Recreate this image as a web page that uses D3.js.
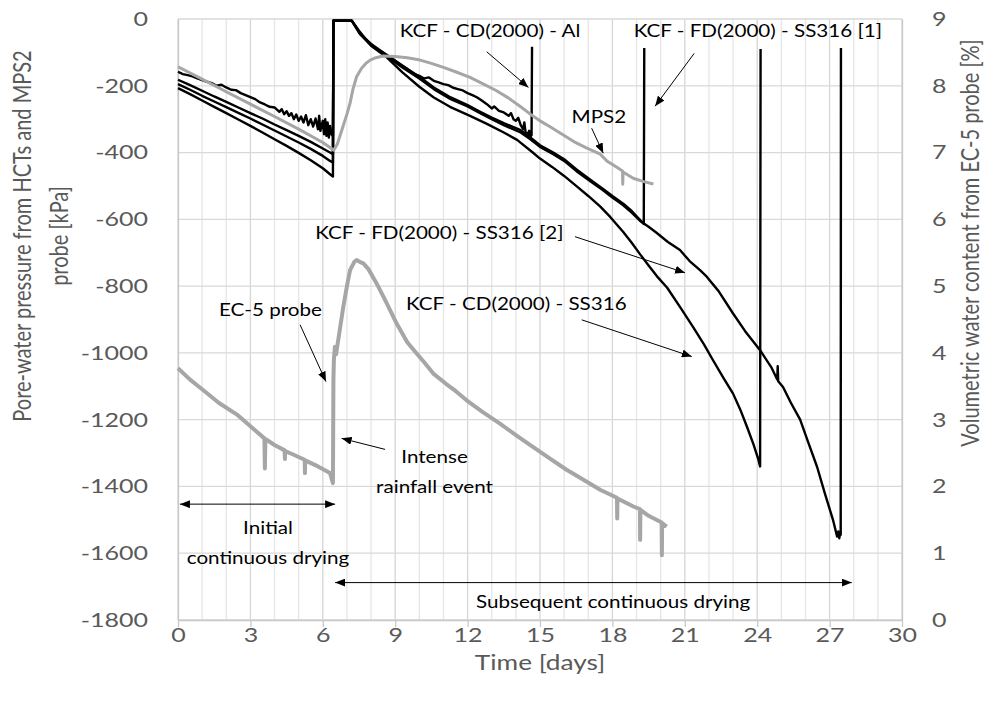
<!DOCTYPE html>
<html>
<head>
<meta charset="utf-8">
<script src="https://cdnjs.cloudflare.com/ajax/libs/d3/7.8.5/d3.min.js"></script>
<style>
  body { margin: 0; background: #fff; }
  svg text { font-family: Lato, "Open Sans", sans-serif; }
</style>
</head>
<body>
<div id="chartContainer"></div>
<script>
// time [days], pore-water pressure [kPa]
var hctAl = [[0,-158],[0.2,-165],[0.4,-168],[0.6,-172],[0.8,-178],[1.0,-183],[1.2,-188],[1.4,-192],[1.6,-200],[1.8,-197],
  [2.0,-205],[2.2,-212],[2.4,-213],[2.6,-222],[2.8,-228],[3.0,-234],[3.2,-240],[3.4,-250],[3.6,-256],[3.8,-263],
  [4.0,-265],[4.2,-278],[4.3,-270],[4.4,-285],[4.5,-276],[4.6,-290],[4.7,-282],[4.8,-300],[4.9,-286],[5.0,-305],
  [5.1,-292],[5.2,-310],[5.3,-288],[5.4,-318],[5.5,-300],[5.6,-322],[5.7,-298],[5.8,-330],[5.85,-290],[5.9,-335],
  [6.0,-305],[6.05,-345],[6.1,-300],[6.15,-350],[6.2,-310],[6.25,-355],[6.3,-320],[6.35,-345],[6.42,-350],[6.44,-5],
  [7.2,-5],[7.5,-35],[7.8,-62],[8.2,-88],[8.65,-108],[9.0,-125],[9.5,-150],[9.8,-165],[10.0,-170],[10.2,-178],
  [10.4,-175],[10.6,-185],[10.8,-190],[11.0,-195],[11.2,-198],[11.4,-206],[11.6,-210],[11.8,-214],[12.0,-222],
  [12.2,-228],[12.4,-235],[12.6,-245],[12.8,-255],[13.0,-268],[13.1,-262],[13.3,-275],[13.5,-280],[13.7,-290],
  [13.8,-282],[13.9,-300],[14.0,-305],[14.1,-296],[14.2,-318],[14.3,-330],[14.35,-310],[14.4,-338],[14.5,-345],
  [14.55,-335],[14.6,-352],[14.65,-348],[14.67,-83]];

var hctFd1 = [[0,-182],[0.5,-198],[1,-215],[1.5,-232],[2,-248],[2.5,-265],[3,-282],[3.5,-298],[4,-316],[4.5,-333],
  [5,-350],[5.5,-368],[6,-388],[6.3,-400],[6.42,-405],[6.44,-5],[7.2,-5],[7.54,-43],[8.0,-75],[8.65,-108],
  [9.3,-140],[10.0,-173],[10.6,-205],[11.3,-235],[12.0,-258],[12.5,-277],[13.0,-295],[13.5,-312],[14.2,-333],
  [14.6,-355],[15.0,-378],[15.55,-400],[16.0,-420],[16.5,-450],[17.1,-482],[17.6,-508],[18.0,-530],[18.45,-553],
  [18.8,-575],[19.15,-602],[19.3,-614],[19.32,-87]];

var hctFd2 = [[0,-195],[0.5,-212],[1,-230],[1.5,-247],[2,-264],[2.5,-281],[3,-298],[3.5,-316],[4,-334],[4.5,-352],
  [5,-370],[5.5,-389],[6,-410],[6.3,-425],[6.42,-430],[6.44,-5],[7.2,-5],[7.54,-45],[8.0,-78],[8.65,-112],
  [9.3,-145],[10.0,-178],[10.6,-210],[11.3,-240],[12.0,-262],[12.5,-281],[13.0,-300],[13.5,-318],[14.2,-340],
  [14.6,-360],[15.0,-383],[15.55,-405],[16.0,-425],[16.5,-455],[17.1,-487],[17.6,-512],[18.0,-535],[18.45,-558],
  [18.8,-580],[19.15,-605],[19.5,-622],[19.84,-641],[20.3,-668],[20.8,-692],[21.2,-725],[21.63,-752],[21.9,-771],
  [22.4,-815],[23.0,-882],[23.5,-935],[24.12,-992],[24.6,-1045],[24.83,-1080],[24.85,-1040],[24.87,-1085],
  [25.07,-1102],[25.4,-1150],[25.78,-1200],[26.1,-1265],[26.48,-1341],[26.8,-1420],[27.14,-1500],[27.31,-1550],
  [27.36,-1535],[27.4,-1555],[27.44,-1540],[27.46,-1545],[27.47,-87]];

var hctCd = [[0,-207],[0.5,-225],[1,-244],[1.5,-263],[2,-282],[2.5,-301],[3,-320],[3.5,-340],[4,-360],[4.5,-380],
  [5,-401],[5.5,-423],[6,-447],[6.3,-465],[6.42,-472],[6.44,-5],[7.2,-5],[7.54,-43],[8.0,-80],[8.65,-115],
  [9.3,-160],[10.0,-203],[10.6,-235],[11.27,-263],[12.1,-290],[12.8,-314],[13.5,-340],[14.05,-362],[14.7,-400],
  [15.0,-418],[15.5,-443],[16.0,-470],[16.5,-500],[17.0,-530],[17.5,-562],[17.9,-592],[18.45,-638],[18.8,-670],
  [19.15,-705],[19.5,-738],[19.84,-770],[20.27,-805],[20.8,-862],[21.34,-922],[21.8,-975],[22.17,-1022],
  [22.6,-1075],[23.0,-1122],[23.3,-1170],[23.58,-1222],[23.85,-1275],[24.05,-1320],[24.12,-1340],[24.14,-90]];

var mps2 = [[0,-143],[1,-180],[2,-218],[3,-255],[4,-292],[5,-330],[6,-370],[6.3,-385],[6.45,-393],[6.6,-375],
  [6.8,-330],[7.0,-285],[7.13,-252],[7.25,-210],[7.4,-173],[7.6,-148],[7.8,-132],[7.96,-123],[8.2,-116],[8.5,-111],
  [9.0,-112],[9.5,-116],[10.03,-123],[10.5,-133],[11.0,-145],[11.5,-158],[12.1,-175],[12.6,-193],[13.2,-215],
  [13.7,-237],[14.2,-263],[14.6,-285],[15.0,-305],[15.4,-322],[15.8,-340],[16.4,-367],[16.9,-385],[17.5,-405],
  [17.77,-425],[18.2,-445],[18.42,-455],[18.43,-495],[18.44,-458],[18.86,-477],[19.3,-487],[19.7,-494]];

// time [days], volumetric water content [%]
var ec5 = [[0,3.77],[0.5,3.6],[1.05,3.44],[1.7,3.25],[2.43,3.08],[3.0,2.9],[3.58,2.72],[3.6,2.27],[3.62,2.71],
  [4.0,2.62],[4.42,2.54],[4.43,2.41],[4.44,2.53],[4.7,2.49],[5.25,2.40],[5.26,2.2],[5.27,2.39],[5.8,2.3],[6.3,2.2],
  [6.42,2.05],[6.44,3.6],[6.46,3.9],[6.5,4.09],[6.55,3.98],[6.6,4.1],[6.85,4.69],[7.0,5.0],[7.13,5.24],[7.3,5.36],
  [7.4,5.39],[7.55,5.36],[7.68,5.34],[7.9,5.25],[8.23,5.04],[8.6,4.78],[9.06,4.44],[9.5,4.16],[9.89,3.99],
  [10.2,3.86],[10.58,3.69],[11.13,3.53],[11.5,3.43],[11.96,3.29],[12.6,3.12],[13.34,2.94],[14.0,2.77],[14.72,2.59],
  [15.4,2.42],[16.1,2.25],[16.8,2.1],[17.49,1.95],[18.19,1.83],[18.2,1.52],[18.21,1.82],[18.87,1.70],[19.14,1.66],
  [19.15,1.2],[19.16,1.65],[19.5,1.56],[20.04,1.46],[20.05,0.97],[20.06,1.45],[20.25,1.40]];

var xTicks = [0, 3, 6, 9, 12, 15, 18, 21, 24, 27, 30];
var yTicks = [0, -200, -400, -600, -800, -1000, -1200, -1400, -1600, -1800];
var y2Ticks = [0, 1, 2, 3, 4, 5, 6, 7, 8, 9];

// annotations, placed in data units (days, kPa)
var annoTexts = [
  {lines: ["KCF - CD(2000) - Al"], t: 12.93, v: -36},
  {lines: ["KCF - FD(2000) - SS316 [1]"], t: 24.03, v: -38},
  {lines: ["MPS2"], t: 17.44, v: -293},
  {lines: ["KCF - FD(2000) - SS316 [2]"], t: 10.83, v: -642},
  {lines: ["KCF - CD(2000) - SS316"], t: 14.02, v: -854},
  {lines: ["EC-5 probe"], t: 3.83, v: -872},
  {lines: ["Intense", "rainfall event"], t: 10.63, v: -1311},
  {lines: ["Initial", "continuous drying"], t: 3.73, v: -1525},
  {lines: ["Subsequent continuous drying"], t: 18.03, v: -1746}
];
var annoArrows = [
  {from: [12.79, -98], to: [14.52, -205]},
  {from: [21.39, -103], to: [19.77, -261]},
  {from: [17.14, -327], to: [17.62, -402]},
  {from: [16.45, -652], to: [21.01, -760]},
  {from: [16.73, -901], to: [21.29, -1011]},
  {from: [5.06, -916], to: [6.13, -1086]},
  {from: [8.58, -1289], to: [6.78, -1256]},
  {from: [0.08, -1453], to: [6.51, -1453], both: true},
  {from: [6.51, -1688], to: [27.92, -1688], both: true}
];

var cfg = { w: 987, h: 717, left: 178, right: 902, top: 19, bot: 620 };
var SX = 1.25; // source picture is stretched horizontally, so are its glyphs
var axisGrey = "#595959";

var svg = d3.select("#chartContainer").append("svg")
  .attr("width", cfg.w)
  .attr("height", cfg.h);

var x = d3.scaleLinear().domain([0, 30]).range([cfg.left, cfg.right]);
var y = d3.scaleLinear().domain([-1800, 0]).range([cfg.bot, cfg.top]);
var y2 = d3.scaleLinear().domain([0, 9]).range([cfg.bot, cfg.top]);

function translate(a, b) { return "translate(" + a + "," + b + ")"; }
// plain hyphen, no thousands separator
function plainNum(d) { return String(d); }

// grid: every day light, every 3 days a bit darker
var grid = svg.append("g").attr("class", "grid");
grid.selectAll(".minorX")
  .data(x.ticks(30))
  .enter().append("line")
  .attr("x1", function(d) { return x(d); })
  .attr("x2", function(d) { return x(d); })
  .attr("y1", cfg.top).attr("y2", cfg.bot)
  .style("stroke", function(d) { return d % 3 == 0 ? "#d6d6d6" : "#e6e6e6"; })
  .style("stroke-width", 1.3);

grid.selectAll(".majorY")
  .data(yTicks)
  .enter().append("line")
  .attr("x1", cfg.left).attr("x2", cfg.right)
  .attr("y1", function(d) { return y(d); })
  .attr("y2", function(d) { return y(d); })
  .style("stroke", "#d9d9d9")
  .style("stroke-width", 1.3);

// axes
var xAxis = svg.append("g")
  .attr("transform", translate(0, cfg.bot))
  .call(d3.axisBottom(x).tickValues(xTicks).tickFormat(plainNum)
    .tickSize(7).tickSizeOuter(0).tickPadding(1));

var yAxis = svg.append("g")
  .attr("transform", translate(cfg.left, 0))
  .call(d3.axisLeft(y).tickValues(yTicks).tickFormat(plainNum).tickSize(0).tickPadding(24));

var y2Axis = svg.append("g")
  .attr("transform", translate(cfg.right, 0))
  .call(d3.axisRight(y2).tickValues(y2Ticks).tickFormat(plainNum).tickSize(0).tickPadding(24));

[xAxis, yAxis, y2Axis].forEach(function(a) {
  a.select(".domain").style("stroke", "#c8c8c8").style("stroke-width", 1.3);
  a.selectAll(".tick line").style("stroke", "#c8c8c8").style("stroke-width", 1.3);
  a.selectAll(".tick text")
    .style("font-size", "20px")
    .style("fill", axisGrey)
    .attr("transform", "scale(" + SX + ",1)");
});
yAxis.selectAll(".tick text").attr("x", -30 / SX);
y2Axis.selectAll(".tick text").attr("x", 30 / SX);

// axis titles
svg.append("text")
  .attr("text-anchor", "middle")
  .attr("transform", translate(540, 670) + " scale(" + SX + ",1)")
  .style("font-size", "21px")
  .style("fill", axisGrey)
  .text("Time [days]");

svg.append("text")
  .attr("text-anchor", "middle")
  .attr("transform", translate(31, 236) + " scale(" + SX + ",1) rotate(-90)")
  .style("font-size", "20px")
  .style("fill", axisGrey)
  .text("Pore-water pressure from HCTs and MPS2");

svg.append("text")
  .attr("text-anchor", "middle")
  .attr("transform", translate(68, 236) + " scale(" + SX + ",1) rotate(-90)")
  .style("font-size", "20px")
  .style("fill", axisGrey)
  .text("probe [kPa]");

svg.append("text")
  .attr("text-anchor", "middle")
  .attr("transform", translate(979, 243) + " scale(" + SX + ",1) rotate(-90)")
  .style("font-size", "20px")
  .style("fill", axisGrey)
  .text("Volumetric water content from EC-5 probe [%]");

// series
var kpaLine = d3.line()
  .x(function(d) { return x(d[0]); })
  .y(function(d) { return y(d[1]); });

var vwcLine = d3.line()
  .x(function(d) { return x(d[0]); })
  .y(function(d) { return y2(d[1]); });

var plotG = svg.append("g").attr("class", "series");

[hctCd, hctFd2, hctFd1, hctAl].forEach(function(s) {
  plotG.append("path")
    .datum(s)
    .attr("d", kpaLine)
    .style("fill", "none")
    .style("stroke", "#000")
    .style("stroke-width", 2.4)
    .style("stroke-linejoin", "round");
});

plotG.append("path")
  .datum(mps2)
  .attr("d", kpaLine)
  .style("fill", "none")
  .style("stroke", "#a6a6a6")
  .style("stroke-width", 3)
  .style("stroke-linejoin", "round");

plotG.append("path")
  .datum(ec5)
  .attr("d", vwcLine)
  .style("fill", "none")
  .style("stroke", "#a6a6a6")
  .style("stroke-width", 4)
  .style("stroke-linejoin", "round");

// annotations
svg.append("defs").append("marker")
  .attr("id", "arrowHead")
  .attr("markerUnits", "userSpaceOnUse")
  .attr("markerWidth", 11)
  .attr("markerHeight", 8)
  .attr("refX", 10)
  .attr("refY", 4)
  .attr("orient", "auto-start-reverse")
  .append("path")
  .attr("d", "M0,0 L10,4 L0,8 Z")
  .style("fill", "#000");

var annoG = svg.append("g").attr("class", "annotations");

annoG.selectAll(".annoArrow")
  .data(annoArrows)
  .enter().append("line")
  .attr("class", "annoArrow")
  .attr("x1", function(d) { return x(d.from[0]); })
  .attr("y1", function(d) { return y(d.from[1]); })
  .attr("x2", function(d) { return x(d.to[0]); })
  .attr("y2", function(d) { return y(d.to[1]); })
  .attr("marker-end", "url(#arrowHead)")
  .attr("marker-start", function(d) { return d.both ? "url(#arrowHead)" : null; })
  .style("stroke", "#000")
  .style("stroke-width", 1);

annoTexts.forEach(function(a) {
  a.lines.forEach(function(line, i) {
    annoG.append("text")
      .attr("text-anchor", "middle")
      .attr("dy", "0.35em")
      .attr("transform", translate(x(a.t), y(a.v) + i * 30) + " scale(" + SX + ",1)")
      .style("font-size", "16.5px")
      .style("fill", "#000")
      .text(line);
  });
});
</script>
</body>
</html>
